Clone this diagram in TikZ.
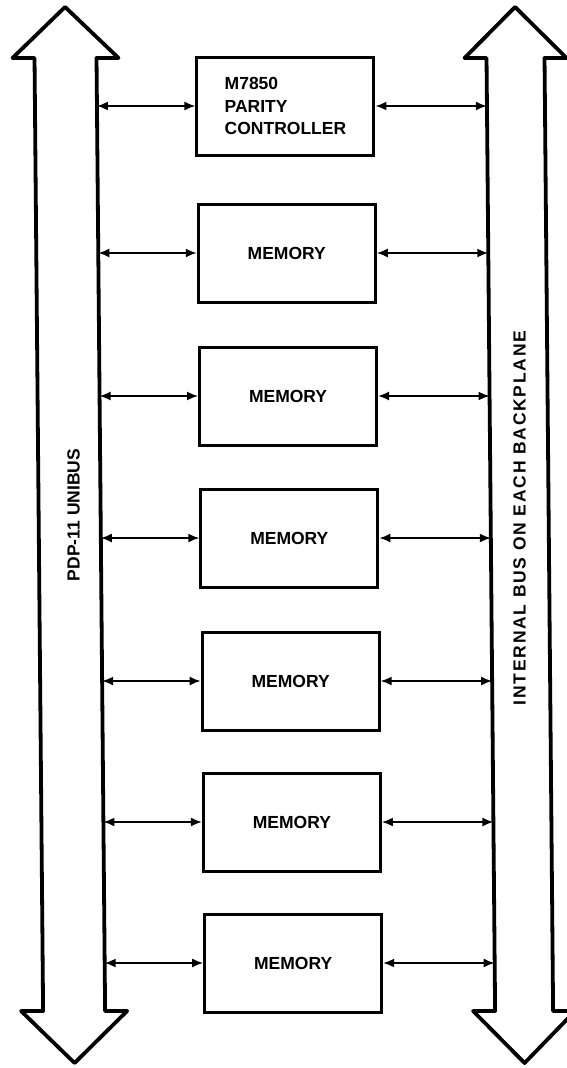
\documentclass[tikz,border=0pt]{standalone}
\usepackage{fontspec}
\setmainfont{Liberation Sans}
\usetikzlibrary{arrows.meta}
\tikzset{
  bus/.style={draw=black, line width=3.8pt, line join=round, fill=white},
  membox/.style={draw=black, line width=3pt, minimum width=177pt, minimum height=98pt,
     inner sep=0pt, font=\bfseries\fontsize{17.5}{22.5}\selectfont, align=left},
  conn/.style={line width=1.8pt, {Latex[length=11pt,width=9pt]}-{Latex[length=11pt,width=9pt]}},
  buslabel/.style={rotate=90, font=\bfseries\fontsize{17.5}{20}\selectfont}
}
\begin{document}
\begin{tikzpicture}[x=1pt,y=-1pt]
\useasboundingbox[fill=white] (0,0) rectangle (567,1068);
\begin{scope}[xslant=-0.009]
  % buses
  \draw[bus] (65,7) -- (118,58) -- (96,58) -- (96,1011) -- (118,1011) -- (65,1063)
        -- (12,1011) -- (34,1011) -- (34,58) -- (12,58) -- cycle;
  \draw[bus] (515,7) -- (566,58) -- (544,58) -- (544,1011) -- (566,1011) -- (515,1063)
        -- (464,1011) -- (486,1011) -- (486,58) -- (464,58) -- cycle;
  \node[buslabel] (unibus) at (69,515) {PDP-11 UNIBUS};
  \node[buslabel] (internal) at (515,518) {\addfontfeature{LetterSpace=10}INTERNAL BUS ON EACH BACKPLANE};
  % boxes
  \node[membox] (m1) at (284.5,106) {M7850\\PARITY\\CONTROLLER};
  \foreach \i/\y in {2/253,3/396,4/538,5/681,6/822,7/963}{
    \node[membox] (m\i) at (284.5,\y) {MEMORY};
  }
  \foreach \i/\y in {1/106,2/253,3/396,4/538,5/681,6/822,7/963}{
    \coordinate (L\i) at (96,\y);
    \coordinate (R\i) at (486,\y);
    \draw[conn] (L\i) -- (m\i);
    \draw[conn] (m\i) -- (R\i);
  }
\end{scope}
\end{tikzpicture}
\end{document}
